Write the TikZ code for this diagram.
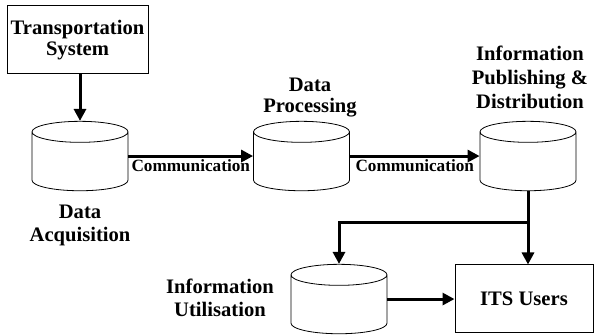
\documentclass[tikz,border=0pt]{standalone}
\usepackage{fontspec}
\setmainfont{Liberation Serif}
\usepackage{tikz}
\usetikzlibrary{arrows.meta,positioning,shapes.geometric}
\tikzset{
  >={Triangle[length=6pt,width=6pt]},
  box/.style={rectangle,draw,line width=0.5pt,inner sep=0pt,align=center,font=\fontsize{10.3}{10.5}\selectfont\bfseries},
  store/.style={cylinder,shape border rotate=90,draw,line width=0.4pt,aspect=0.219,inner sep=0pt},
  flow/.style={->,line width=1.5pt},
  lbl/.style={align=center,inner sep=0pt,font=\fontsize{10.3}{11.5}\selectfont\bfseries},
  comm/.style={inner sep=1pt,font=\fontsize{8.6}{9}\selectfont\bfseries}
}
\newcommand{\storebody}{\rule{0pt}{18.75pt}\rule{48pt}{0pt}}
\begin{document}
\begin{tikzpicture}[x=0.5pt,y=-0.5pt]
  \useasboundingbox (0,0) rectangle (594,335);
  % Boxes and stores
  \node[box,minimum width=70.5pt,minimum height=34pt] (trans) at (77.5,40) {Transportation\\System};
  \node[store] (acq) at (80,161.5) {\storebody};
  \node[store] (proc) at (301.5,161.5) {\storebody};
  \node[store] (pub) at (528,161.5) {\storebody};
  \node[store] (util) at (339,304.5) {\storebody};
  \node[box,minimum width=69pt,minimum height=34pt] (users) at (524,299) {ITS Users};

  % Labels
  \node[lbl] (acqlbl) at (80,225) {Data\\Acquisition};
  \node[lbl,font=\fontsize{10.3}{10.5}\selectfont\bfseries] (proclbl) at (310,98) {Data\\Processing};
  \node[lbl,font=\fontsize{10.3}{12}\selectfont\bfseries] (publbl) at (530,77) {Information\\Publishing \&\\Distribution};
  \node[lbl] (utillbl) at (220,298) {Information\\Utilisation};

  % Flows
  \draw[flow] (trans.south -| acq.north) -- (acq.north);
  \draw[flow] (acq.shape center -| acq.east) -- node[comm,below] {Communication} (acq.shape center -| proc.west);
  \draw[flow] (proc.shape center -| proc.east) -- node[comm,below] {Communication} (proc.shape center -| pub.west);
  \coordinate (split) at (528,223);
  \draw[flow] (pub.south) -- (pub.south |- users.north);
  \draw[flow] (split) -| (util.north);
  \draw[flow] (util.shape center -| util.east) -- (util.shape center -| users.west);
\end{tikzpicture}
\end{document}
